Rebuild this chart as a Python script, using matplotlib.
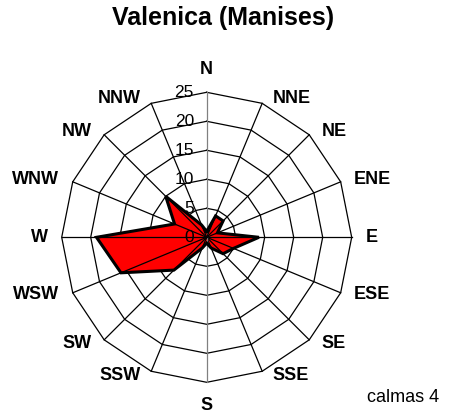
import numpy as np
import matplotlib
matplotlib.use("Agg")
import matplotlib.pyplot as plt

plt.rcParams['font.family'] = ['Liberation Sans', 'DejaVu Sans']

directions = ['N', 'NNE', 'NE', 'ENE', 'E', 'ESE', 'SE', 'SSE',
              'S', 'SSW', 'SW', 'WSW', 'W', 'WNW', 'NW', 'NNW']
freq = [1, 4, 4, 2, 9, 5, 4, 2, 1, 2, 8, 16, 19, 6, 10, 2.3]
rings = [5, 10, 15, 20, 25]
tick_labels = ['0', '5', '10', '15', '20', '25']
title = 'Valenica (Manises)'
calmas = 'calmas 4'

# pixel geometry: center at (206.7, 237.3) from top-left, 5.8 px per unit
W, H = 459, 419
cx, cy, ppu = 206.7, 237.3, 5.8

fig = plt.figure(figsize=(W / 100, H / 100), dpi=100)
ax = fig.add_axes([0, 0, 1, 1])
ax.set_xlim(-cx / ppu, (W - cx) / ppu)
ax.set_ylim(-(H - cy) / ppu, cy / ppu)
ax.axis('off')

ang = np.deg2rad(np.arange(16) * 22.5)
sx, sy = np.sin(ang), np.cos(ang)

# polygon rings
for r in rings:
    ax.plot(np.append(r * sx, r * sx[0]), np.append(r * sy, r * sy[0]),
            color='black', lw=0.9, zorder=1)

# data polygon
vals = np.array(freq)
px, py = vals * sx, vals * sy
ax.fill(px, py, color='#ff0000', zorder=2)
ax.plot(np.append(px, px[0]), np.append(py, py[0]), color='black', lw=2.2,
        zorder=4, solid_joinstyle='miter')

# spokes on top of fill
rmax = rings[-1]
for i in range(16):
    c = '#808080' if i in (0, 8) else 'black'
    ax.plot([0, rmax * sx[i]], [0, rmax * sy[i]], color=c, lw=0.9, zorder=3)

# tick labels along N axis
for k, t in enumerate(tick_labels):
    ax.text(-2.2, k * 5, t, ha='right', va='center', fontsize=12.5, zorder=5)

# direction labels
r_lab, pad = 150 / ppu, 1.5
for i, d in enumerate(directions):
    x, y = r_lab * sx[i], r_lab * sy[i]
    if sx[i] > 0.1:
        ha, x = 'left', x + pad
    elif sx[i] < -0.1:
        ha, x = 'right', x - pad
    else:
        ha = 'center'
    if abs(sx[i]) < 0.1:
        va = 'bottom' if sy[i] > 0 else 'top'
        y = y + (pad * 1.1 if sy[i] > 0 else -pad * 1.1)
    else:
        va = 'center'
    ax.text(x, y, d, ha=ha, va=va, fontsize=13, fontweight='bold')

fig.text(223 / W, 1 - 18 / H, title, ha='center', va='center',
         fontsize=18, fontweight='bold')
fig.text(367 / W, 1 - 397 / H, calmas, ha='left', va='center', fontsize=13)

fig.savefig('out.png', dpi=100)
